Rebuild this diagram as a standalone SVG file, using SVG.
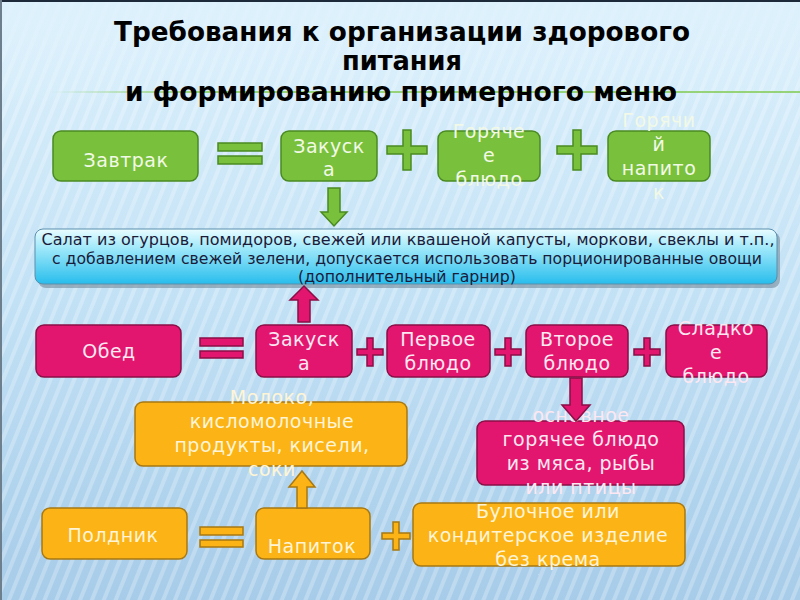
<svg xmlns="http://www.w3.org/2000/svg" width="800" height="600" viewBox="0 0 800 600">
<defs>
  <linearGradient id="bg" x1="0" y1="0" x2="0" y2="1">
    <stop offset="0" stop-color="#ddf1fc"/>
    <stop offset="0.5" stop-color="#c2e1f5"/>
    <stop offset="1" stop-color="#a7cce9"/>
  </linearGradient>
  <pattern id="stripes" width="11" height="40" patternUnits="userSpaceOnUse" patternTransform="rotate(22)">
    <rect x="0" y="0" width="4" height="40" fill="#ffffff" opacity="0.25"/>
  </pattern>
  <linearGradient id="fade" x1="0" y1="0" x2="0" y2="1">
    <stop offset="0" stop-color="#ddf1fc" stop-opacity="0.9"/>
    <stop offset="0.18" stop-color="#ddf1fc" stop-opacity="0"/>
    <stop offset="1" stop-color="#ddf1fc" stop-opacity="0"/>
  </linearGradient>
  <linearGradient id="gline" x1="0" y1="0" x2="1" y2="0">
    <stop offset="0" stop-color="#8fd06a" stop-opacity="0"/>
    <stop offset="0.2" stop-color="#8fd06a" stop-opacity="0.9"/>
    <stop offset="1" stop-color="#8fd06a" stop-opacity="0.9"/>
  </linearGradient>
  <linearGradient id="cyan" x1="0" y1="0" x2="0" y2="1">
    <stop offset="0" stop-color="#eafcff"/>
    <stop offset="0.35" stop-color="#9fe8fa"/>
    <stop offset="1" stop-color="#27bdec"/>
  </linearGradient>
  <style>
    .title{font-family:"DejaVu Sans Condensed","DejaVu Sans",sans-serif;font-weight:bold;font-size:27px;fill:#000;text-anchor:middle}
    .g{fill:#79c13c;stroke:#4a8a22;stroke-width:1.5}
    .p{fill:#e3166f;stroke:#8a0f47;stroke-width:1.5}
    .o{fill:#fbb316;stroke:#a87812;stroke-width:1.5}
    .t{font-family:"DejaVu Sans",sans-serif;font-size:19px;text-anchor:middle;letter-spacing:0.5px}
    .tg{fill:#f2f9e6}
    .tp{fill:#fde8f2}
    .to{fill:#fff5d6}
    .sm{font-family:"DejaVu Sans Condensed","DejaVu Sans",sans-serif;font-size:15px;fill:#1b1b3a;text-anchor:middle}
  </style>
</defs>

<rect width="800" height="600" fill="url(#bg)"/>
<rect width="800" height="600" fill="url(#stripes)"/>
<rect width="800" height="600" fill="url(#fade)"/>
<rect x="0" y="0" width="800" height="2" fill="#1c2a3a"/>
<rect x="0" y="0" width="2" height="600" fill="#6d7f8c"/>
<rect x="50" y="91" width="750" height="2" fill="url(#gline)"/>

<g id="title">
  <text class="title" x="402" y="41" textLength="576" lengthAdjust="spacingAndGlyphs">Требования к организации здорового</text>
  <text class="title" x="402" y="70" textLength="120" lengthAdjust="spacingAndGlyphs">питания</text>
  <text class="title" x="401" y="101" textLength="552" lengthAdjust="spacingAndGlyphs">и формированию примерного меню</text>
</g>

<!-- Row 1: breakfast -->
<g id="breakfast">
  <rect class="g" x="53" y="131" width="145" height="50" rx="8"/>
  <text class="t tg" x="126" y="167">Завтрак</text>
</g>
<g id="b-snack">
  <rect class="g" x="281" y="131" width="96" height="50" rx="8"/>
  <text class="t tg" x="329" y="153">Закуск</text>
  <text class="t tg" x="329" y="176">а</text>
</g>
<g id="b-hot">
  <rect class="g" x="438" y="131" width="102" height="50" rx="8"/>
  <text class="t tg" x="489" y="138">Горяче</text>
  <text class="t tg" x="489" y="162">е</text>
  <text class="t tg" x="489" y="186">блюдо</text>
</g>
<g id="b-drink">
  <rect class="g" x="608" y="131" width="102" height="50" rx="8"/>
  <text class="t tg" x="659" y="127">Горячи</text>
  <text class="t tg" x="659" y="151">й</text>
  <text class="t tg" x="659" y="175">напито</text>
  <text class="t tg" x="659" y="199">к</text>
</g>

<!-- Salad note -->
<g id="salad">
  <rect x="38" y="232" width="742" height="56" rx="8" fill="#7f97a8" opacity="0.7"/>
  <rect x="35" y="229" width="742" height="55" rx="8" fill="url(#cyan)" stroke="#5a8fac" stroke-width="1"/>
  <text class="sm" x="408" y="245" textLength="733" lengthAdjust="spacingAndGlyphs">Салат из огурцов, помидоров, свежей или квашеной капусты, моркови, свеклы и т.п.,</text>
  <text class="sm" x="407" y="264" textLength="710" lengthAdjust="spacingAndGlyphs">с добавлением свежей зелени, допускается использовать порционированные овощи</text>
  <text class="sm" x="407" y="282" textLength="218" lengthAdjust="spacingAndGlyphs">(дополнительный гарнир)</text>
</g>

<!-- Row 2: lunch -->
<g id="lunch">
  <rect class="p" x="36" y="325" width="145" height="52" rx="8"/>
  <text class="t tp" x="109" y="358">Обед</text>
</g>
<g id="l-snack">
  <rect class="p" x="256" y="325" width="96" height="52" rx="8"/>
  <text class="t tp" x="304" y="346">Закуск</text>
  <text class="t tp" x="304" y="370">а</text>
</g>
<g id="l-first">
  <rect class="p" x="387" y="325" width="103" height="52" rx="8"/>
  <text class="t tp" x="438" y="346">Первое</text>
  <text class="t tp" x="438" y="370">блюдо</text>
</g>
<g id="l-second">
  <rect class="p" x="526" y="325" width="102" height="52" rx="8"/>
  <text class="t tp" x="577" y="346">Второе</text>
  <text class="t tp" x="577" y="370">блюдо</text>
</g>
<g id="l-dessert">
  <rect class="p" x="666" y="325" width="101" height="52" rx="8"/>
  <text class="t tp" x="716" y="335">Сладко</text>
  <text class="t tp" x="716" y="359">е</text>
  <text class="t tp" x="716" y="383">блюдо</text>
</g>

<g id="milk">
  <rect class="o" x="135" y="402" width="272" height="64" rx="8"/>
  <text class="t to" x="272" y="404" letter-spacing="1">Молоко,</text>
  <text class="t to" x="272" y="428" letter-spacing="1">кисломолочные</text>
  <text class="t to" x="272" y="452" letter-spacing="1">продукты, кисели,</text>
  <text class="t to" x="272" y="476" letter-spacing="1">соки</text>
</g>

<g id="main-hot">
  <rect class="p" x="477" y="421" width="207" height="64" rx="8"/>
  <text class="t tp" x="581" y="422" letter-spacing="1">основное</text>
  <text class="t tp" x="581" y="446" letter-spacing="1">горячее блюдо</text>
  <text class="t tp" x="581" y="470" letter-spacing="1">из мяса, рыбы</text>
  <text class="t tp" x="581" y="494" letter-spacing="1">или птицы</text>
</g>

<!-- Row 3: afternoon snack -->
<g id="snack">
  <rect class="o" x="42" y="508" width="145" height="51" rx="8"/>
  <text class="t to" x="113" y="542" letter-spacing="1">Полдник</text>
</g>
<g id="s-drink">
  <rect class="o" x="256" y="508" width="114" height="51" rx="8"/>
  <text class="t to" x="312" y="553" letter-spacing="1">Напиток</text>
</g>
<g id="bun">
  <rect class="o" x="413" y="503" width="272" height="63" rx="8"/>
  <text class="t to" x="548" y="518" letter-spacing="1">Булочное или</text>
  <text class="t to" x="548" y="542" letter-spacing="1">кондитерское изделие</text>
  <text class="t to" x="548" y="566" letter-spacing="1">без крема</text>
</g>

<!-- Operators -->
<g id="operators">
  <rect class="g" x="218" y="143" width="44" height="8"/>
  <rect class="g" x="218" y="156" width="44" height="8"/>
  <path class="g" d="M403 130h8v16h16v8h-16v16h-8v-16h-16v-8h16z"/>
  <path class="g" d="M573 130h8v16h16v8h-16v16h-8v-16h-16v-8h16z"/>

  <rect class="p" x="200" y="338" width="43" height="8"/>
  <rect class="p" x="200" y="351" width="43" height="7"/>
  <path class="p" d="M367 338h6v11h10v6h-10v11h-6v-11h-10v-6h10z"/>
  <path class="p" d="M505 338h6v11h10v6h-10v11h-6v-11h-10v-6h10z"/>
  <path class="p" d="M644 338h6v11h10v6h-10v11h-6v-11h-10v-6h10z"/>

  <rect class="o" x="200" y="527" width="43" height="8"/>
  <rect class="o" x="200" y="540" width="43" height="7"/>
  <path class="o" d="M393 522h6v11h11v6h-11v11h-6v-11h-11v-6h11z"/>
</g>

<!-- Connectors -->
<g id="connectors">
  <path class="g" d="M328 188h12v24h7l-13 14l-13-14h7z"/>
  <path class="p" d="M298 322v-22h-8l14-14l14 14h-8v22z"/>
  <path class="p" d="M570 378h12v27h8l-14 16l-14-16h8z"/>
  <path class="o" d="M297 508v-21h-8l13-16l13 16h-8v21z"/>
</g>
</svg>
